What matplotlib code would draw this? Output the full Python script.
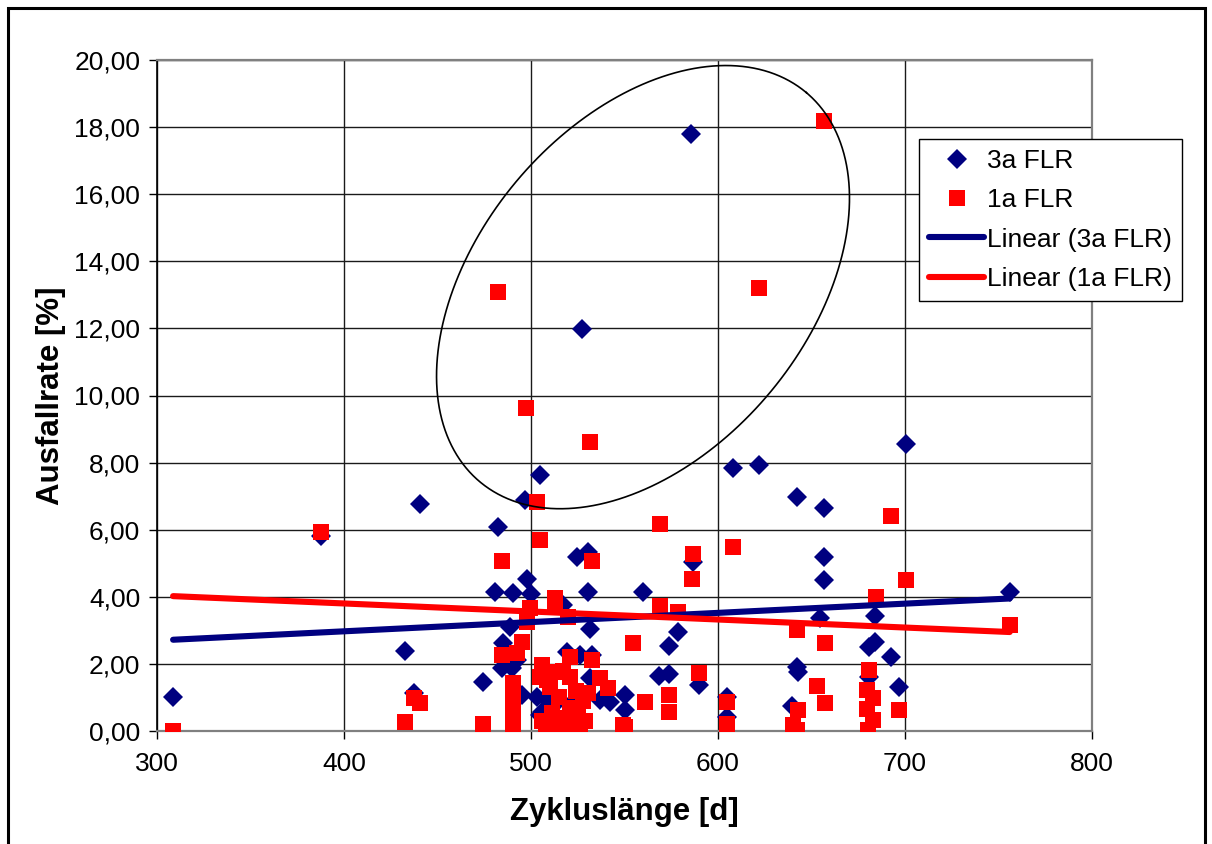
import numpy as np
import matplotlib
matplotlib.use('Agg')
import matplotlib.pyplot as plt
from matplotlib.ticker import FuncFormatter, MultipleLocator
from matplotlib.patches import Rectangle

plt.rcParams['font.family'] = ['Liberation Sans', 'DejaVu Sans']

# 3a FLR (Zykluslaenge [d], Ausfallrate [%])
x_3a = [308.6, 387.7, 432.6, 437.4, 440.6, 474.3, 480.8, 482.3, 485.0, 484.5,
        488.8, 490.4, 489.8, 492.5, 495.2, 496.8, 497.8, 500.0, 503.2, 504.8,
        504.8, 506.0, 508.6, 512.0, 517.0, 518.0, 519.3, 524.0, 524.6, 526.2,
        527.3, 528.0, 530.5, 530.5, 531.6, 532.6, 531.6, 536.9, 542.2, 550.3,
        550.3, 559.9, 568.4, 574.0, 574.0, 578.6, 585.6, 586.6, 590.0, 605.0,
        605.0, 608.0, 622.0, 639.6, 642.0, 642.0, 643.0, 654.5, 656.7, 656.7,
        656.7, 681.0, 684.0, 681.0, 684.0, 692.5, 697.0, 700.5, 756.0]
y_3a = [1.01, 5.82, 2.38, 1.13, 6.77, 1.46, 4.14, 6.08, 2.62, 1.88,
        3.10, 4.11, 1.88, 2.12, 1.07, 6.89, 4.53, 4.08, 1.01, 7.63,
        0.48, 0.57, 0.92, 0.75, 3.76, 0.40, 2.36, 0.95, 5.19, 2.27,
        11.98, 0.20, 5.34, 4.14, 3.04, 2.27, 1.58, 0.92, 0.86, 1.07,
        0.63, 4.14, 1.64, 1.70, 2.53, 2.95, 17.79, 5.04, 1.37, 1.01,
        0.42, 7.84, 7.93, 0.75, 6.98, 1.91, 1.75, 3.37, 6.65, 5.19,
        4.50, 2.50, 2.65, 1.61, 3.43, 2.21, 1.31, 8.55, 4.14]

# 1a FLR
x_1a = [308.6, 387.7, 432.6, 437.4, 440.6, 474.3, 482.4, 484.5, 484.5, 490.4,
        490.4, 490.4, 490.4, 490.4, 490.4, 490.4, 492.5, 495.0, 497.3, 497.8,
        499.5, 503.2, 504.8, 505.9, 508.6, 505.0, 506.0, 508.0, 510.0, 511.0,
        512.8, 512.8, 513.0, 514.0, 515.0, 516.0, 517.0, 518.0, 519.8, 520.9,
        520.9, 521.0, 522.0, 524.0, 525.0, 526.0, 528.0, 529.0, 530.5, 531.6,
        532.6, 532.6, 536.9, 541.2, 549.2, 550.3, 554.5, 561.0, 569.0, 569.0,
        574.0, 574.0, 578.6, 586.6, 586.0, 590.0, 605.0, 605.0, 608.0, 622.0,
        640.0, 642.0, 642.8, 642.0, 653.0, 656.7, 657.0, 657.0, 679.6, 681.0,
        683.0, 679.6, 683.0, 680.0, 684.5, 692.5, 697.0, 700.5, 756.0]
y_1a = [0.00, 5.93, 0.27, 0.98, 0.83, 0.21, 13.08, 5.07, 2.27, 1.43,
        1.20, 0.95, 0.70, 0.45, 0.22, 0.03, 2.32, 2.65, 9.63, 3.25,
        3.67, 6.83, 5.69, 1.97, 1.52, 1.60, 0.30, 0.05, 1.30, 0.55,
        3.96, 1.76, 3.70, 0.15, 1.00, 0.40, 1.80, 0.05, 3.40, 2.21,
        1.61, 0.70, 0.20, 1.20, 0.45, 0.05, 0.90, 0.30, 1.13, 8.61,
        5.07, 2.12, 1.58, 1.28, 0.18, 0.12, 2.62, 0.86, 6.17, 3.73,
        1.07, 0.57, 3.55, 5.28, 4.53, 1.73, 0.86, 0.21, 5.49, 13.20,
        0.18, 3.01, 0.63, 0.03, 1.34, 18.18, 2.62, 0.84, 1.22, 1.82,
        0.98, 0.65, 0.33, 0.02, 3.99, 6.40, 0.63, 4.50, 3.16]

# linear trend lines (start / end of data range)
trend_x = [308.6, 756.0]
trend_3a = [2.72, 3.95]
trend_1a = [4.02, 2.95]

navy = '#000080'
red = '#FF0000'

fig = plt.figure(figsize=(12.12, 8.44), dpi=100)
fig.patches.append(Rectangle((8 / 1212, -0.05), 1197 / 1212, 1.05 - 8 / 844,
                             transform=fig.transFigure, fill=False,
                             edgecolor='black', linewidth=2.2))
ax = fig.add_axes([157 / 1212, 113 / 844, 935 / 1212, 671 / 844])

ax.set_xlim(300, 800)
ax.set_ylim(0, 20)

ax.plot(x_3a, y_3a, linestyle='none', marker='D', markersize=10.5,
        color=navy, markeredgewidth=0, label='3a FLR', zorder=3)
ax.plot(x_1a, y_1a, linestyle='none', marker='s', markersize=11.5,
        color=red, markeredgewidth=0, label='1a FLR', zorder=4)

ax.plot(trend_x, trend_3a, color=navy, linewidth=4.4,
        solid_capstyle='round', label='Linear (3a FLR)', zorder=5)
ax.plot(trend_x, trend_1a, color=red, linewidth=4.4,
        solid_capstyle='round', label='Linear (1a FLR)', zorder=5)

# ellipse around the outliers (drawn in pixel space)
ell_x, ell_y = 559.9, 13.23
ell_a, ell_b, ell_ang = 254.0, 165.0, np.deg2rad(50)
t = np.linspace(0, 2 * np.pi, 400)
cx, cy = ax.transData.transform((ell_x, ell_y))
px = cx + ell_a * np.cos(t) * np.cos(ell_ang) - ell_b * np.sin(t) * np.sin(ell_ang)
py = cy + ell_a * np.cos(t) * np.sin(ell_ang) + ell_b * np.sin(t) * np.cos(ell_ang)
pts = ax.transData.inverted().transform(np.column_stack([px, py]))
ax.plot(pts[:, 0], pts[:, 1], color='black', linewidth=1.2, zorder=6)

ax.xaxis.set_major_locator(MultipleLocator(100))
ax.yaxis.set_major_locator(MultipleLocator(2))
ax.yaxis.set_major_formatter(FuncFormatter(lambda v, p: '{:.2f}'.format(v).replace('.', ',')))
ax.grid(True, color='#1a1a1a', linewidth=1.0)
ax.set_axisbelow(True)
ax.tick_params(labelsize=19, direction='out', length=6, width=1, pad=6)
ax.tick_params(axis='x', pad=9)

for side in ['top', 'right', 'bottom']:
    ax.spines[side].set_color('#808080')
    ax.spines[side].set_linewidth(1.6)
ax.spines['left'].set_color('black')
ax.spines['left'].set_linewidth(1.2)

ax.set_xlabel('Zykluslänge [d]', fontsize=22.5, fontweight='bold', labelpad=15)
ax.set_ylabel('Ausfallrate [%]', fontsize=22.5, fontweight='bold', labelpad=6)

leg = ax.legend(loc='upper left', bbox_to_anchor=(919 / 1212, 1 - 139 / 844),
                bbox_transform=fig.transFigure, fontsize=19, frameon=True,
                fancybox=False, edgecolor='black', framealpha=1,
                handlelength=2.1, handletextpad=0.1, labelspacing=0.58,
                borderpad=0.38, borderaxespad=0)
leg.get_frame().set_linewidth(1.0)
leg.set_zorder(10)

fig.savefig('out.png', dpi=100)
